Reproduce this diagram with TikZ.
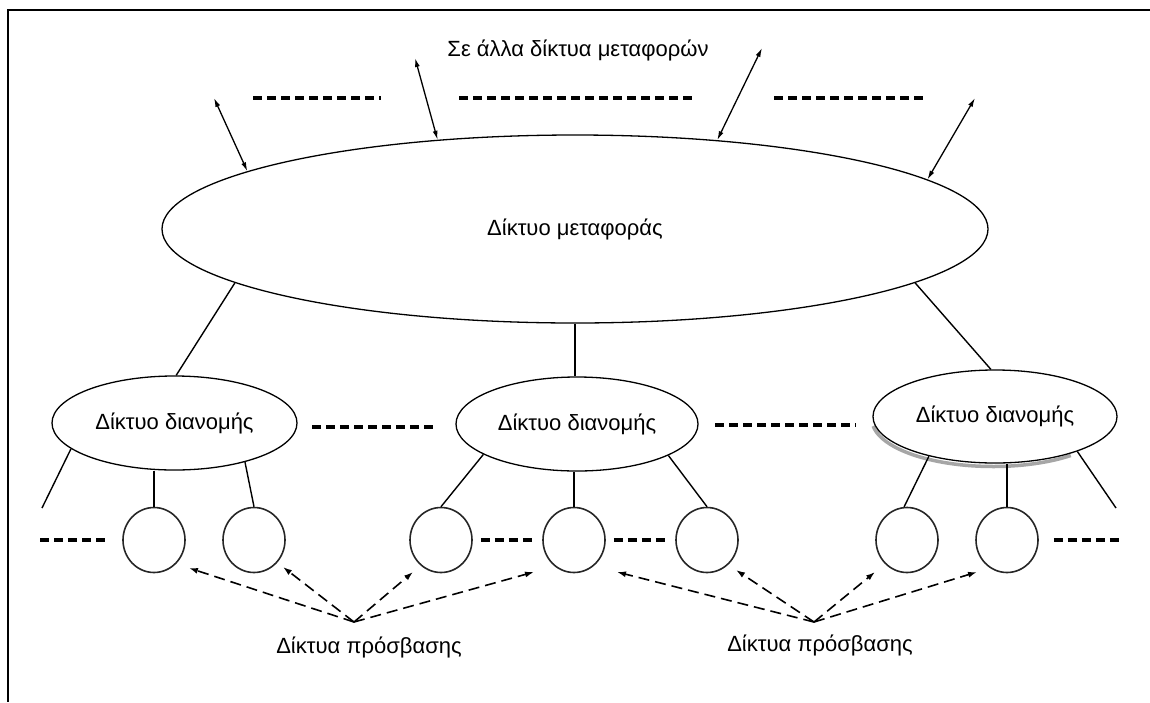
\documentclass[tikz,border=0pt]{standalone}
\usepackage{fontspec}
\setmainfont{Liberation Sans}
\usetikzlibrary{shapes.geometric,arrows.meta,calc}
\begin{document}
\begin{tikzpicture}[x=1pt,y=-1pt,
  font=\fontsize{22}{26}\selectfont,
  conn/.style={line width=1.4pt},
  ell/.style={draw,ellipse,line width=1.3pt,inner sep=0pt,fill=white},
  acc/.style={ellipse,draw,line width=1.6pt,draw=black!85,minimum width=62pt,minimum height=65pt,inner sep=0pt},
  dots/.style={line width=3.2pt,dash pattern=on 9pt off 5pt},
  bidir/.style={line width=1.3pt,{Latex[length=9pt,width=5pt]}-{Latex[length=9pt,width=5pt]}},
  dasharr/.style={line width=1.6pt,dash pattern=on 11pt off 6pt,-{Latex[length=9pt,width=6pt]}},
  shadow/.style={black!35,line width=3.5pt},
  lbl/.style={inner sep=0pt}]
\useasboundingbox (0,0) rectangle (1150,702);
\draw[line width=2.4pt] (1150,10) -- (8,10) -- (8,702);

% top
\node[lbl] (top) at (578,50) {Σε άλλα δίκτυα μεταφορών};
\node[ell,minimum width=826pt,minimum height=188pt] (T) at (575,229) {Δίκτυο μεταφοράς};

\coordinate (a1) at (214,98);
\coordinate (a2) at (415,58);
\coordinate (a3) at (762,48);
\coordinate (a4) at (975,98);
\draw[bidir] (a1) -- (T.170);
\draw[bidir] (a2) -- (T.147.7);
\draw[bidir] (a3) -- (T.32.4);
\draw[bidir] (a4) -- (T.8.5);

\draw[dots] (253,98) -- (381,98);
\draw[dots] (459,98) -- (692,98);
\draw[dots] (774,98) -- (927,98);

% distribution networks
\node[ell,minimum width=245pt,minimum height=94pt] (L) at (174.5,423) {Δίκτυο διανομής};
\node[ell,minimum width=242pt,minimum height=94pt] (M) at (577,424) {Δίκτυο διανομής};
\draw[shadow] (993,419.5) ++(50:121 and 47) arc[start angle=50,end angle=172,x radius=121,y radius=47];
\node[ell,minimum width=244pt,minimum height=93pt] (R) at (995,416.5) {Δίκτυο διανομής};

\draw[conn] (T.189.1) -- (L.88);
\draw[conn] (T.south) -- (T.south |- M.north);
\draw[conn] (T.351.5) -- (R.95);

\draw[dots] (312,427) -- (434,427);
\draw[dots] (715,425) -- (856,425);

% access networks
\foreach \n/\x in {1/154,2/254,3/441,4/574,5/707,6/907,7/1007}
  \node[acc] (c\n) at (\x,540) {};

\coordinate (fl) at (42,508);
\coordinate (fr) at (1116,508);
\draw[conn] (L.194.1) -- (fl);
\draw[conn] (c1.north) -- (c1.north |- L.south);
\draw[conn] (L.331.4) -- (c2.north);
\draw[conn] (M.198) -- (c3.north);
\draw[conn] (c4.north) -- (c4.north |- M.south);
\draw[conn] (M.341) -- (c5.north);
\draw[conn] (R.211) -- (c6.95);
\draw[conn] (c7.north) -- (c7.north |- R.south);
\draw[conn] (R.337.5) -- (fr);

\coordinate (dl) at (40,540);
\coordinate (dr) at (1120,540);
\draw[dots] (dl) -- ([xshift=-14pt]c1.west);
\draw[dots,shorten <=8pt,shorten >=7pt] (c3.east) -- (c4.west);
\draw[dots,shorten <=8pt,shorten >=7pt] (c4.east) -- (c5.west);
\draw[dots,shorten <=15pt] (c7.east) -- (dr);

\node[lbl] (pl) at (369,647) {Δίκτυα πρόσβασης};
\node[lbl] (pr) at (820,645) {Δίκτυα πρόσβασης};
\coordinate (A1) at (354,622);
\coordinate (A2) at (814,622);
\coordinate (t11) at (189,568);
\coordinate (t12) at (283,567);
\coordinate (t13) at (413,572);
\coordinate (t14) at (534,572);
\coordinate (t21) at (617,572);
\coordinate (t22) at (736,570);
\coordinate (t23) at (875,572);
\coordinate (t24) at (977,572);
\foreach \t in {t11,t12,t13,t14} \draw[dasharr] (A1) -- (\t);
\foreach \t in {t21,t22,t23,t24} \draw[dasharr] (A2) -- (\t);
\end{tikzpicture}
\end{document}
